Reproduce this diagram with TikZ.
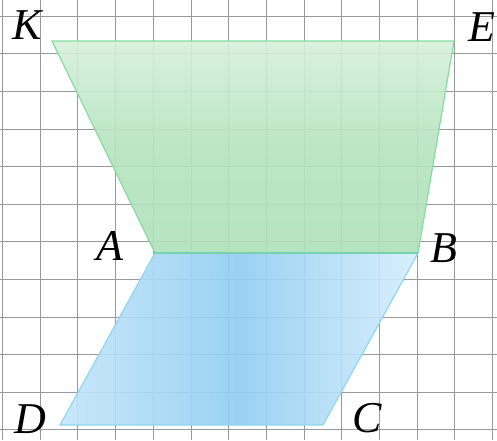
\documentclass[tikz,border=0pt]{standalone}
\usepackage{fontspec}
\setmainfont{Liberation Serif}
\definecolor{gtop}{HTML}{D6F0DB}
\definecolor{gmid}{HTML}{B5E4BF}
\definecolor{gbot}{HTML}{B0E2BA}
\definecolor{gedge}{HTML}{86DCA2}
\definecolor{abedge}{HTML}{74D2AC}
\definecolor{bside}{HTML}{C4E6FA}
\definecolor{bmid}{HTML}{90CDF3}
\definecolor{bedge}{HTML}{8ED6F2}
\definecolor{gridc}{HTML}{999999}
\begin{document}
\begin{tikzpicture}[x=1pt,y=-1pt,
  gridline/.style={draw=gridc,line width=0.6pt},
  lbl/.style={inner sep=0pt,font=\fontsize{44}{44}\selectfont\itshape},
  greenedge/.style={draw=gedge,line width=1.2pt},
  blueedge/.style={draw=bedge,line width=1.2pt}]
\useasboundingbox (0,0) rectangle (497,440);
\fill[white] (0,0) rectangle (497,440);
% grid
\foreach \k in {-1,...,12} \draw[gridline] ({40+37.7*\k},0) -- ({40+37.7*\k},440);
\foreach \k in {0,...,11} \draw[gridline] (0,{16+37.6*\k}) -- (497,{16+37.6*\k});
% vertices
\coordinate (K) at (52,41);
\coordinate (E) at (454,41);
\coordinate (A) at (155,253);
\coordinate (B) at (418,253);
\coordinate (D) at (60,425);
\coordinate (C) at (323,425);
% green trapezoid
\shade[top color=gtop, bottom color=gbot, middle color=gmid, fill opacity=0.9]
  (K) -- (E) -- (B) -- (A) -- cycle;
% blue parallelogram
\shade[left color=bside, right color=bside!70!white, middle color=bmid, fill opacity=0.9]
  (A) -- (B) -- (C) -- (D) -- cycle;
\draw[greenedge] (A) -- (K) -- (E) -- (B);
\draw[blueedge] (A) -- (D) -- (C) -- (B);
\draw[draw=abedge,line width=1.5pt] (A) -- (B);
% labels
\node[lbl] (lK) at (27,25) {K};
\node[lbl] (lE) at (482,27) {E};
\node[lbl] (lA) at (110,246) {A};
\node[lbl] (lB) at (444,248) {B};
\node[lbl] (lD) at (30,419) {D};
\node[lbl] (lC) at (367,418) {C};
\end{tikzpicture}
\end{document}
